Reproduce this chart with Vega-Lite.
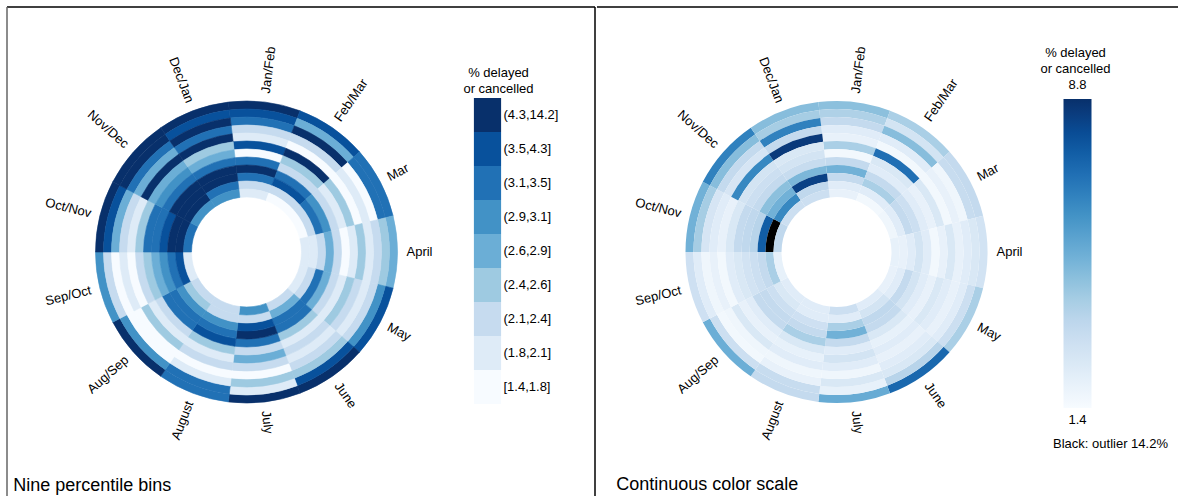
{
  "$schema": "https://vega.github.io/schema/vega-lite/v6.json",
  "padding": {"left": 6, "top": 6, "right": 0, "bottom": 0},
  "background": "white",
  "spacing": 0,
  "config": {
    "font": "Liberation Sans",
    "view": {"stroke": null},
    "text": {"font": "Liberation Sans", "fontSize": 13, "color": "black"}
  },
  "datasets": {
    "cells": [
      {"p":0,"ring":11,"value":4.5},{"p":0,"ring":10,"value":3.8},{"p":0,"ring":9,"value":3.3},{"p":0,"ring":8,"value":2.25},{"p":0,"ring":7,"value":1.95},{"p":0,"ring":6,"value":3.9},{"p":0,"ring":5,"value":1.6},{"p":0,"ring":4,"value":3.3},{"p":0,"ring":3,"value":5.0},{"p":0,"ring":2,"value":3.3},{"p":0,"ring":1,"value":2.25},{"p":0,"ring":0,"value":1.95},
      {"p":1,"ring":11,"value":3.9},{"p":1,"ring":10,"value":2.75},{"p":1,"ring":9,"value":4.6},{"p":1,"ring":8,"value":2.25},{"p":1,"ring":7,"value":1.6},{"p":1,"ring":6,"value":7.0},{"p":1,"ring":5,"value":2.5},{"p":1,"ring":4,"value":2.25},{"p":1,"ring":3,"value":3.3},{"p":1,"ring":2,"value":3.9},{"p":1,"ring":1,"value":2.25},{"p":1,"ring":0,"value":1.6},
      {"p":2,"ring":11,"value":3.3},{"p":2,"ring":10,"value":3.2},{"p":2,"ring":9,"value":1.7},{"p":2,"ring":8,"value":1.95},{"p":2,"ring":7,"value":1.6},{"p":2,"ring":6,"value":2.5},{"p":2,"ring":5,"value":1.95},{"p":2,"ring":4,"value":2.25},{"p":2,"ring":3,"value":3.0},{"p":2,"ring":2,"value":3.3},{"p":2,"ring":1,"value":2.25},{"p":2,"ring":0,"value":1.7},
      {"p":3,"ring":11,"value":2.8},{"p":3,"ring":10,"value":2.5},{"p":3,"ring":9,"value":2.25},{"p":3,"ring":8,"value":1.95},{"p":3,"ring":7,"value":2.5},{"p":3,"ring":6,"value":1.95},{"p":3,"ring":5,"value":1.6},{"p":3,"ring":4,"value":2.25},{"p":3,"ring":3,"value":2.75},{"p":3,"ring":2,"value":2.25},{"p":3,"ring":1,"value":1.95},{"p":3,"ring":0,"value":2.0},
      {"p":4,"ring":11,"value":3.9},{"p":4,"ring":10,"value":3.0},{"p":4,"ring":9,"value":2.25},{"p":4,"ring":8,"value":1.95},{"p":4,"ring":7,"value":2.25},{"p":4,"ring":6,"value":2.5},{"p":4,"ring":5,"value":1.95},{"p":4,"ring":4,"value":2.25},{"p":4,"ring":3,"value":2.75},{"p":4,"ring":2,"value":3.3},{"p":4,"ring":1,"value":2.25},{"p":4,"ring":0,"value":1.95},
      {"p":5,"ring":11,"value":7.2},{"p":5,"ring":10,"value":3.6},{"p":5,"ring":9,"value":2.5},{"p":5,"ring":8,"value":2.25},{"p":5,"ring":7,"value":1.95},{"p":5,"ring":6,"value":2.25},{"p":5,"ring":5,"value":2.0},{"p":5,"ring":4,"value":2.5},{"p":5,"ring":3,"value":3.3},{"p":5,"ring":2,"value":3.4},{"p":5,"ring":1,"value":2.75},{"p":5,"ring":0,"value":2.25},
      {"p":6,"ring":11,"value":5.2},{"p":6,"ring":10,"value":2.0},{"p":6,"ring":9,"value":2.5},{"p":6,"ring":8,"value":1.7},{"p":6,"ring":7,"value":2.25},{"p":6,"ring":6,"value":2.75},{"p":6,"ring":5,"value":2.25},{"p":6,"ring":4,"value":3.3},{"p":6,"ring":3,"value":5.0},{"p":6,"ring":2,"value":3.9},{"p":6,"ring":1,"value":2.25},{"p":6,"ring":0,"value":3.0},
      {"p":7,"ring":11,"value":3.3},{"p":7,"ring":10,"value":3.2},{"p":7,"ring":9,"value":1.95},{"p":7,"ring":8,"value":1.7},{"p":7,"ring":7,"value":2.25},{"p":7,"ring":6,"value":2.0},{"p":7,"ring":5,"value":2.5},{"p":7,"ring":4,"value":3.9},{"p":7,"ring":3,"value":3.3},{"p":7,"ring":2,"value":2.95},{"p":7,"ring":1,"value":2.25},{"p":7,"ring":0,"value":2.25},
      {"p":8,"ring":11,"value":5.1},{"p":8,"ring":10,"value":3.0},{"p":8,"ring":9,"value":1.6},{"p":8,"ring":8,"value":1.7},{"p":8,"ring":7,"value":2.5},{"p":8,"ring":6,"value":1.95},{"p":8,"ring":5,"value":2.25},{"p":8,"ring":4,"value":3.3},{"p":8,"ring":3,"value":3.3},{"p":8,"ring":2,"value":3.0},{"p":8,"ring":1,"value":2.5},{"p":8,"ring":0,"value":2.25},
      {"p":9,"ring":11,"value":2.95},{"p":9,"ring":10,"value":2.25},{"p":9,"ring":9,"value":1.7},{"p":9,"ring":8,"value":1.95},{"p":9,"ring":7,"value":1.6},{"p":9,"ring":6,"value":2.25},{"p":9,"ring":5,"value":2.5},{"p":9,"ring":4,"value":2.8},{"p":9,"ring":3,"value":3.0},{"p":9,"ring":2,"value":3.3},{"p":9,"ring":1,"value":3.9},{"p":9,"ring":0,"value":2.0},
      {"p":10,"ring":11,"value":5.0},{"p":10,"ring":10,"value":4.0},{"p":10,"ring":9,"value":2.65},{"p":10,"ring":8,"value":2.25},{"p":10,"ring":7,"value":1.95},{"p":10,"ring":6,"value":2.5},{"p":10,"ring":5,"value":3.3},{"p":10,"ring":4,"value":3.4},{"p":10,"ring":3,"value":3.6},{"p":10,"ring":2,"value":7.5},{"p":10,"ring":1,"value":14.2},{"p":10,"ring":0,"value":3.4},
      {"p":11,"ring":11,"value":6.5},{"p":11,"ring":10,"value":4.6},{"p":11,"ring":9,"value":3.3},{"p":11,"ring":8,"value":2.65},{"p":11,"ring":7,"value":6.3},{"p":11,"ring":6,"value":2.75},{"p":11,"ring":5,"value":3.0},{"p":11,"ring":4,"value":3.3},{"p":11,"ring":3,"value":4.5},{"p":11,"ring":2,"value":5.0},{"p":11,"ring":1,"value":6.3},{"p":11,"ring":0,"value":3.0},
      {"p":12,"ring":11,"value":4.6},{"p":12,"ring":10,"value":4.0},{"p":12,"ring":9,"value":6.5},{"p":12,"ring":8,"value":3.3},{"p":12,"ring":7,"value":8.5},{"p":12,"ring":6,"value":2.5},{"p":12,"ring":5,"value":2.75},{"p":12,"ring":4,"value":3.2},{"p":12,"ring":3,"value":4.8},{"p":12,"ring":2,"value":8.3},{"p":12,"ring":1,"value":3.4},{"p":12,"ring":0,"value":3.0}
    ],
    "labels": [
      {"p":0,"label":"Jan/Feb"},{"p":1,"label":"Feb/Mar"},{"p":2,"label":"Mar"},{"p":3,"label":"April"},{"p":4,"label":"May"},{"p":5,"label":"June"},{"p":6,"label":"July"},{"p":7,"label":"August"},{"p":8,"label":"Aug/Sep"},{"p":9,"label":"Sep/Oct"},{"p":10,"label":"Oct/Nov"},{"p":11,"label":"Nov/Dec"},{"p":12,"label":"Dec/Jan"}
    ]
  },
  "resolve": {"scale": {"color": "independent", "stroke": "independent", "theta": "independent", "radius": "independent"}, "legend": {"color": "independent", "stroke": "independent"}},
  "hconcat": [
    {
      "width": 588,
      "height": 490,
      "title": {"text": "Nine percentile bins", "orient": "bottom", "anchor": "start", "offset": -21, "dx": 7, "fontSize": 18, "fontWeight": "normal", "font": "Liberation Sans", "color": "black"},
      "layer": [
        {
          "data": {"name": "cells"},
          "transform": [{"calculate": "datum.p + 1", "as": "p2"}, {"calculate": "datum.ring + 1", "as": "ring2"}],
          "mark": {"type": "arc", "x": 239.5, "strokeWidth": 0.6},
          "encoding": {
            "theta": {"field": "p", "type": "quantitative", "scale": {"domain": [0, 13], "range": [-0.1208, 6.1624]}},
            "theta2": {"field": "p2"},
            "radius": {"field": "ring", "type": "quantitative", "scale": {"type": "linear", "domain": [0, 12], "range": [55, 151], "zero": false}},
            "radius2": {"field": "ring2"},
            "stroke": {
              "field": "value", "type": "quantitative", "legend": null,
              "scale": {"type": "threshold", "domain": [1.8, 2.1, 2.4, 2.6, 2.9, 3.1, 3.5, 4.3], "range": ["#f7fbff", "#deebf7", "#c6dbef", "#9ecae1", "#6baed6", "#4292c6", "#2171b5", "#08519c", "#08306b"]}
            },
            "color": {
              "field": "value", "type": "quantitative",
              "scale": {"type": "threshold", "domain": [1.8, 2.1, 2.4, 2.6, 2.9, 3.1, 3.5, 4.3], "range": ["#f7fbff", "#deebf7", "#c6dbef", "#9ecae1", "#6baed6", "#4292c6", "#2171b5", "#08519c", "#08306b"]},
              "legend": {
                "type": "symbol", "direction": "vertical",
                "orient": "none", "legendX": 456.5, "legendY": 60, "padding": 0,
                "title": ["% delayed", "or cancelled"], "titleFontSize": 13, "titleFontWeight": "normal", "titleColor": "black", "titleLineHeight": 16,
                "titleAnchor": "start", "titleAlign": "center", "titlePadding": 2,
                "values": [5, 3.9, 3.3, 3.0, 2.75, 2.5, 2.25, 1.95, 1.6],
                "labelExpr": "datum.value >= 4.3 ? '(4.3,14.2]' : datum.value >= 3.5 ? '(3.5,4.3]' : datum.value >= 3.1 ? '(3.1,3.5]' : datum.value >= 2.9 ? '(2.9,3.1]' : datum.value >= 2.6 ? '(2.6,2.9]' : datum.value >= 2.4 ? '(2.4,2.6]' : datum.value >= 2.1 ? '(2.1,2.4]' : datum.value >= 1.8 ? '(1.8,2.1]' : '[1.4,1.8]'",
                "symbolType": "M-0.8,-1H0.8V1H-0.8Z", "symbolSize": 1156, "symbolStrokeWidth": 0, "symbolOpacity": 1, "rowPadding": 0,
                "labelOffset": -1, "labelFontSize": 13, "labelColor": "black",
                "encode": {"title": {"update": {"dx": {"value": 28}}}}
              }
            }
          }
        },
        {
          "data": {"name": "labels"},
          "transform": [{"filter": "datum.p <= 6"}, {"calculate": "datum.p + 0.5", "as": "pm"}, {"calculate": "datum.p * 360 / 13 + 6.923 - 90", "as": "rot"}],
          "mark": {"type": "text", "x": 239.5, "radius": 160, "align": "left", "baseline": "middle", "fontSize": 13},
          "encoding": {
            "theta": {"field": "pm", "type": "quantitative", "scale": {"domain": [0, 13], "range": [-0.1208, 6.1624]}},
            "angle": {"field": "rot", "type": "quantitative", "scale": null},
            "text": {"field": "label"}
          }
        },
        {
          "data": {"name": "labels"},
          "transform": [{"filter": "datum.p >= 7"}, {"calculate": "datum.p + 0.5", "as": "pm"}, {"calculate": "datum.p * 360 / 13 + 6.923 - 270", "as": "rot"}],
          "mark": {"type": "text", "x": 239.5, "radius": 160, "align": "right", "baseline": "middle", "fontSize": 13},
          "encoding": {
            "theta": {"field": "pm", "type": "quantitative", "scale": {"domain": [0, 13], "range": [-0.1208, 6.1624]}},
            "angle": {"field": "rot", "type": "quantitative", "scale": null},
            "text": {"field": "label"}
          }
        },
        {
          "data": {"values": [{}]},
          "mark": {"type": "rule", "color": "black", "strokeWidth": 1.5},
          "encoding": {"x": {"value": 0}, "x2": {"value": "width"}, "y": {"value": 0}}
        },
        {
          "data": {"values": [{}]},
          "mark": {"type": "rule", "color": "#666666", "strokeWidth": 1.5},
          "encoding": {"x": {"value": 0}, "y": {"value": 0}, "y2": {"value": "height"}}
        },
        {
          "data": {"values": [{}]},
          "mark": {"type": "rule", "color": "black", "strokeWidth": 1.5},
          "encoding": {"x": {"value": "width"}, "y": {"value": 0}, "y2": {"value": "height"}}
        }
      ]
    },
    {
      "width": 584,
      "height": 490,
      "title": {"text": "Continuous color scale", "orient": "bottom", "anchor": "start", "offset": -21, "dx": 20, "fontSize": 18, "fontWeight": "normal", "font": "Liberation Sans", "color": "black"},
      "layer": [
        {
          "data": {"name": "cells"},
          "transform": [{"calculate": "datum.p + 1", "as": "p2"}, {"calculate": "datum.ring + 1", "as": "ring2"}],
          "mark": {"type": "arc", "x": 239.5},
          "encoding": {
            "theta": {"field": "p", "type": "quantitative", "scale": {"domain": [0, 13], "range": [-0.1208, 6.1624]}},
            "theta2": {"field": "p2"},
            "radius": {"field": "ring", "type": "quantitative", "scale": {"type": "linear", "domain": [0, 12], "range": [55, 151], "zero": false}},
            "radius2": {"field": "ring2"},
            "color": {
              "condition": {"test": "datum.value > 8.8", "value": "black"},
              "field": "value", "type": "quantitative",
              "scale": {"domain": [1.4, 2.325, 3.25, 4.175, 5.1, 6.025, 6.95, 7.875, 8.8], "range": ["#f7fbff", "#deebf7", "#c6dbef", "#9ecae1", "#6baed6", "#4292c6", "#2171b5", "#08519c", "#08306b"]},
              "legend": {
                "type": "gradient", "direction": "vertical",
                "orient": "none", "legendX": 443.5, "legendY": 40, "padding": 0,
                "title": ["% delayed", "or cancelled"], "titleFontSize": 13, "titleFontWeight": "normal", "titleColor": "black", "titleLineHeight": 16,
                "titleAnchor": "start", "titleAlign": "center", "titlePadding": 23,
                "gradientLength": 309, "gradientThickness": 28, "gradientStrokeWidth": 0,
                "values": [1.4, 8.8], "format": ".1f", "labelOverlap": false,
                "labelOffset": -14, "labelFontSize": 13, "labelColor": "black",
                "encode": {
                  "title": {"update": {"dx": {"value": 12}}},
                  "labels": {"update": {"align": {"value": "center"}, "baseline": {"signal": "datum.value > 5 ? 'bottom' : 'top'"}, "dy": {"signal": "datum.value > 5 ? -7 : 6"}}}
                }
              }
            }
          }
        },
        {
          "data": {"name": "labels"},
          "transform": [{"filter": "datum.p <= 6"}, {"calculate": "datum.p + 0.5", "as": "pm"}, {"calculate": "datum.p * 360 / 13 + 6.923 - 90", "as": "rot"}],
          "mark": {"type": "text", "x": 239.5, "radius": 160, "align": "left", "baseline": "middle", "fontSize": 13},
          "encoding": {
            "theta": {"field": "pm", "type": "quantitative", "scale": {"domain": [0, 13], "range": [-0.1208, 6.1624]}},
            "angle": {"field": "rot", "type": "quantitative", "scale": null},
            "text": {"field": "label"}
          }
        },
        {
          "data": {"name": "labels"},
          "transform": [{"filter": "datum.p >= 7"}, {"calculate": "datum.p + 0.5", "as": "pm"}, {"calculate": "datum.p * 360 / 13 + 6.923 - 270", "as": "rot"}],
          "mark": {"type": "text", "x": 239.5, "radius": 160, "align": "right", "baseline": "middle", "fontSize": 13},
          "encoding": {
            "theta": {"field": "pm", "type": "quantitative", "scale": {"domain": [0, 13], "range": [-0.1208, 6.1624]}},
            "angle": {"field": "rot", "type": "quantitative", "scale": null},
            "text": {"field": "label"}
          }
        },
        {
          "data": {"values": [{"note": "Black: outlier 14.2%"}]},
          "mark": {"type": "text", "x": 513.5, "y": 437, "align": "center", "baseline": "middle", "fontSize": 13},
          "encoding": {"text": {"field": "note"}}
        },
        {
          "data": {"values": [{}]},
          "mark": {"type": "rule", "color": "black", "strokeWidth": 1.5},
          "encoding": {"x": {"value": 0}, "x2": {"value": "width"}, "y": {"value": 0}}
        }
      ]
    }
  ]
}
